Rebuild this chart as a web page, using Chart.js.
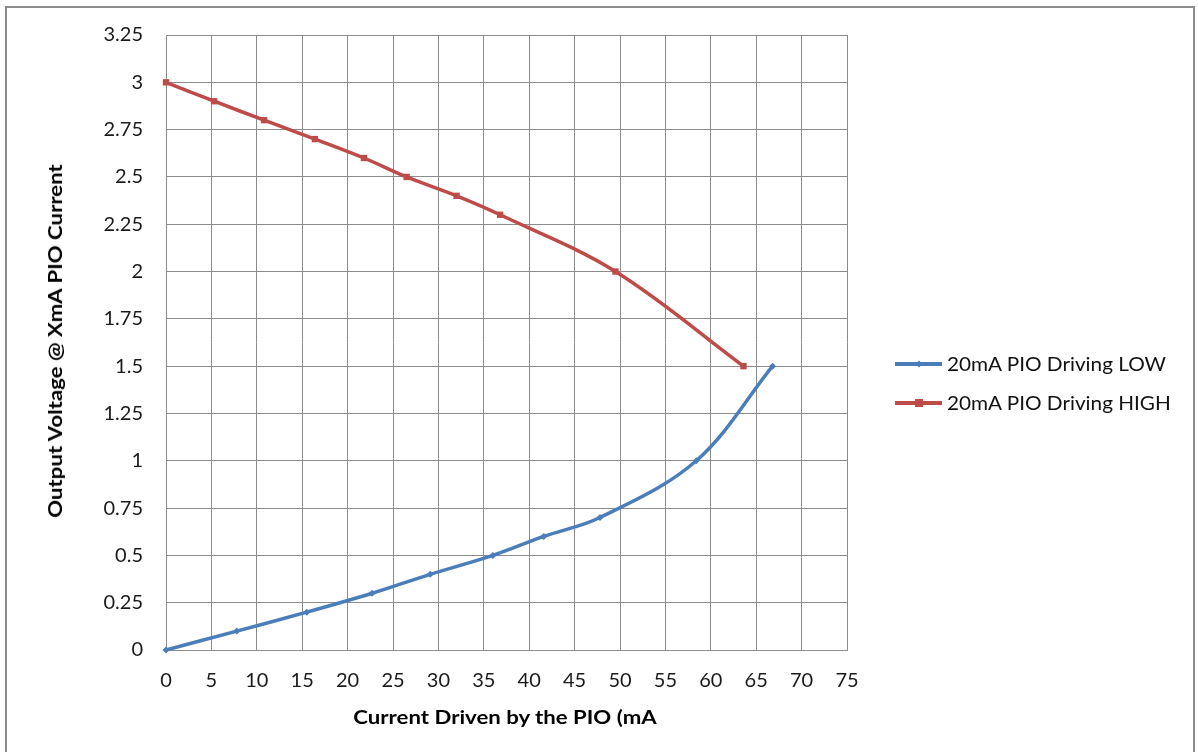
<!DOCTYPE html>
<html>
<head>
<meta charset="utf-8">
<script src="https://cdn.jsdelivr.net/npm/chart.js@4.4.1/dist/chart.umd.min.js"></script>
<style>
  html, body { margin: 0; padding: 0; background: #fff; }
  #wrap { position: relative; width: 1198px; height: 752px; overflow: hidden; font-family: Lato, "Open Sans", sans-serif; }
  #frame { position: absolute; left: 5px; top: 6px; width: 1190px; height: 800px; border: 2px solid #8c8c8c; box-sizing: border-box; }
  canvas { position: absolute; left: 0; top: 0; }
  .xtitle { position: absolute; left: 505px; top: 717px; transform: translate(-50%, -50%) scaleX(1.2); font-weight: bold; font-size: 18.5px; color: #000; white-space: nowrap; }
  .ytitle { position: absolute; left: 55px; top: 341px; transform: translate(-50%, -50%) rotate(-90deg) scaleX(1.2); font-weight: bold; font-size: 18.5px; color: #000; white-space: nowrap; }
  .leg { position: absolute; left: 895px; height: 24px; display: flex; align-items: center; }
  .leg .ln { position: relative; width: 47px; height: 4px; }
  .leg .mk { position: absolute; left: 50%; top: 50%; }
  .leg .tx { margin-left: 5px; font-size: 18.5px; color: #111; white-space: nowrap; transform: scaleX(1.12); transform-origin: left center; }
</style>
</head>
<body>
<div id="wrap">
  <div id="frame"></div>
  <canvas id="c" width="1198" height="752"></canvas>
  <div class="ytitle" id="ytitle"></div>
  <div class="xtitle" id="xtitle"></div>
  <div id="legend"></div>
</div>
<script>
const xAxisTitle = "Current Driven by the PIO (mA";
const yAxisTitle = "Output Voltage @ XmA PIO Current";
const seriesNames = ["20mA PIO Driving LOW", "20mA PIO Driving HIGH"];
const seriesColors = ["#4a7ebb", "#be4b48"];

const lowCurrent = [0, 7.8, 15.5, 22.7, 29.1, 36.0, 41.6, 47.8, 58.4, 66.8];
const lowVoltage = [0, 0.1, 0.2, 0.3, 0.4, 0.5, 0.6, 0.7, 1.0, 1.5];
const highCurrent = [0, 5.3, 10.8, 16.4, 21.8, 26.5, 32.0, 36.8, 49.5, 63.6];
const highVoltage = [3, 2.9, 2.8, 2.7, 2.6, 2.5, 2.4, 2.3, 2.0, 1.5];

const xTickLabels = ["0","5","10","15","20","25","30","35","40","45","50","55","60","65","70","75"];
const yTickLabels = ["0","0.25","0.5","0.75","1","1.25","1.5","1.75","2","2.25","2.5","2.75","3","3.25"];

document.getElementById('xtitle').textContent = xAxisTitle;
document.getElementById('ytitle').textContent = yAxisTitle;

const toPts = (xs, ys) => xs.map((x, i) => ({ x: x, y: ys[i] }));

const legendTops = [352, 391];
const legend = document.getElementById('legend');
seriesNames.forEach((name, i) => {
  const row = document.createElement('div');
  row.className = 'leg';
  row.style.top = legendTops[i] + 'px';
  const ln = document.createElement('div');
  ln.className = 'ln';
  ln.style.background = seriesColors[i];
  const mk = document.createElement('div');
  mk.className = 'mk';
  if (i === 0) {
    mk.style.width = '5px'; mk.style.height = '5px';
    mk.style.transform = 'translate(-50%,-50%) rotate(45deg)';
  } else {
    mk.style.width = '8px'; mk.style.height = '8px';
    mk.style.transform = 'translate(-50%,-50%)';
  }
  mk.style.background = seriesColors[i];
  ln.appendChild(mk);
  const tx = document.createElement('span');
  tx.className = 'tx';
  tx.textContent = name;
  row.appendChild(ln);
  row.appendChild(tx);
  legend.appendChild(row);
});

const tickFont = { family: 'Lato, "Open Sans", sans-serif', size: 20 };

new Chart(document.getElementById('c'), {
  type: 'scatter',
  data: {
    datasets: [
      {
        label: seriesNames[0],
        data: toPts(lowCurrent, lowVoltage),
        showLine: true,
        borderColor: seriesColors[0],
        backgroundColor: seriesColors[0],
        borderWidth: 3.5,
        tension: 0.35,
        pointStyle: 'rectRot',
        pointRadius: 3.5,
        pointBorderWidth: 0,
        clip: false
      },
      {
        label: seriesNames[1],
        data: toPts(highCurrent, highVoltage),
        showLine: true,
        borderColor: seriesColors[1],
        backgroundColor: seriesColors[1],
        borderWidth: 3.5,
        tension: 0.35,
        pointStyle: 'rect',
        pointRadius: 4.5,
        pointBorderWidth: 0,
        clip: false
      }
    ]
  },
  options: {
    responsive: false,
    animation: false,
    devicePixelRatio: 1,
    layout: { padding: { left: 0, top: 32, right: 351, bottom: 0 } },
    plugins: { legend: { display: false }, tooltip: { enabled: false } },
    scales: {
      x: {
        type: 'linear',
        min: 0, max: 75,
        ticks: {
          stepSize: 5,
          padding: 19,
          color: '#1a1a1a',
          font: tickFont,
          maxRotation: 0,
          callback: (v, i) => xTickLabels[i]
        },
        grid: { color: '#8c8c8c', lineWidth: 1, drawTicks: false },
        border: { color: '#8c8c8c', width: 1 },
        afterFit: (s) => { s.height = 102; }
      },
      y: {
        type: 'linear',
        min: 0, max: 3.25,
        ticks: {
          stepSize: 0.25,
          padding: 23,
          color: '#1a1a1a',
          font: tickFont,
          callback: (v, i) => yTickLabels[i]
        },
        grid: { color: '#8c8c8c', lineWidth: 1, drawTicks: false },
        border: { color: '#8c8c8c', width: 1 },
        afterFit: (s) => { s.width = 166; }
      }
    }
  }
});
</script>
</body>
</html>
